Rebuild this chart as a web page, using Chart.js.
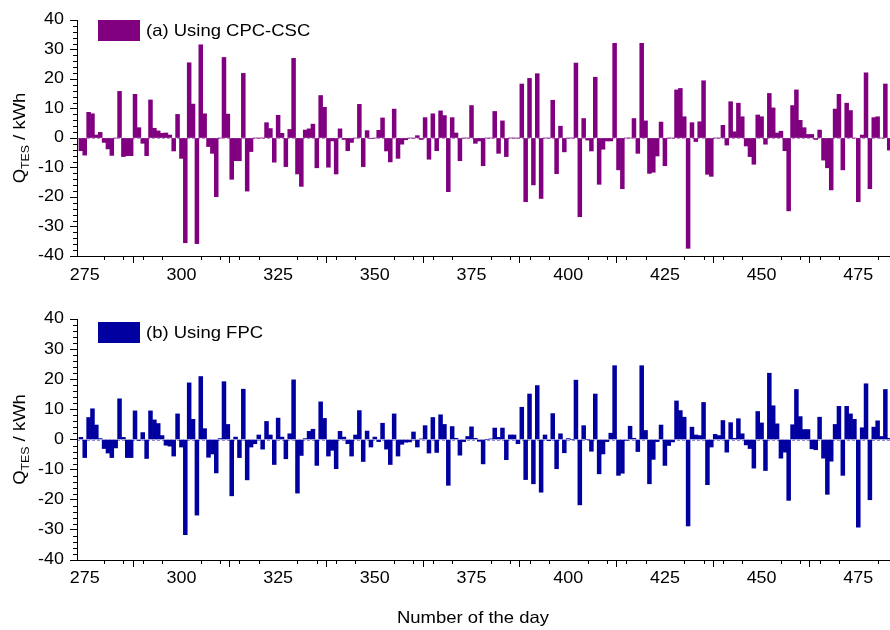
<!DOCTYPE html>
<html>
<head>
<meta charset="utf-8">
<script src="https://cdn.jsdelivr.net/npm/chart.js@4.4.1/dist/chart.umd.min.js"></script>
<style>
  html, body { margin: 0; padding: 0; background: #fff; }
  #wrap { position: relative; width: 890px; height: 630px; }
  .panel { position: absolute; left: 0; width: 890px; }
</style>
</head>
<body>
<div id="wrap">
  <div class="panel" style="top:0;height:300px"><canvas id="chartA"></canvas></div>
  <div class="panel" style="top:300px;height:330px"><canvas id="chartB"></canvas></div>
</div>
<script>
// Daily thermal energy storage balance, one value per day starting at day 274
const firstDay = 274;

// (a) CPC-CSC collector, kWh per day (days 274 ... 483)
const cpcCsc = [
  -4.3, -5.8, 8.7, 8.2, 1.0, 1.9, -1.5, -3.7, -5.9, 0,
  15.8, -6.3, -6.0, -6.0, 14.8, 3.5, -1.8, -6.0, 12.9, 3.3,
  2.4, 1.6, 1.7, 1.0, -4.4, 8.0, -6.9, -35.5, 25.5, 11.5,
  -35.8, 31.6, 8.2, -2.9, -5.2, -19.9, 0, 27.3, 8.1, -14.0,
  -7.7, -7.7, 21.9, -18.0, -4.6, 0, 0, 0, 5.2, 3.2,
  -8.2, 7.7, 1.6, -9.7, 2.9, 27.0, -12.2, -16.4, 2.7, 3.1,
  4.7, -10.1, 14.4, 10.4, -9.9, -1.0, -12.2, 3.1, -0.5, -4.3,
  -1.5, 0, 11.4, -9.7, 2.5, -0.2, 0, 2.6, 6.8, -4.4,
  -8.1, 9.8, -6.9, -2.1, -0.6, 0, 0, 0.8, -0.5, 6.9,
  -7.2, 8.2, -4.3, 9.2, 7.6, -18.2, 6.9, 1.7, -7.7, 0,
  0, 11.0, -1.8, -1.0, -9.4, 0, 0, 9.0, -5.2, 5.8,
  -6.3, 0, 0, 0, 18.3, -21.6, 20.2, -15.9, 21.8, -20.5,
  0, 0, 12.8, -12.1, 4.0, -4.7, 0, 0, 25.4, -26.7,
  6.6, -0.7, -4.4, 20.6, -15.7, -3.8, -1.0, -1.0, 32.1, -10.8,
  -17.2, 0, 0, 6.6, -5.2, 32.1, 5.8, -12.0, -11.6, -6.1,
  5.4, -9.4, 0, 0, 16.3, 16.8, 7.2, -37.4, 5.2, -1.2,
  5.5, 19.4, -12.3, -13.0, 0, 0, 4.3, -2.4, 12.3, 2.1,
  11.8, 7.2, -2.7, -6.3, -8.9, 7.8, 7.2, -2.1, 15.1, 10.2,
  1.7, 2.3, -4.3, -24.7, 11.0, 16.3, 6.0, 3.5, 1.2, 1.2,
  -0.5, 2.7, -7.5, -10.1, -17.6, 9.8, 14.8, -10.8, 11.8, 9.3,
  0, -21.6, 1.0, 22.1, -17.2, 6.9, 7.2, 0, 18.3, -4.1
];

// (b) FPC collector, kWh per day (days 274 ... 483)
const fpc = [
  0.7, -6.0, 7.3, 10.2, 4.8, 0.3, -3.0, -4.5, -6.0, -2.8,
  13.5, 0.7, -6.0, -6.0, 9.5, -0.3, 2.3, -6.3, 9.5, 6.5,
  5.3, 1.3, -1.9, -2.2, -5.5, 8.5, -2.5, -31.6, 18.8, 6.7,
  -25.1, 20.9, 3.6, -5.9, -4.8, -11.1, 0.3, 19.2, 5.0, -18.7,
  0.8, -6.0, 16.7, -13.4, -2.5, -1.4, 1.5, -3.2, 6.0, 1.5,
  -8.3, 7.1, 0.8, -6.4, 1.9, 19.8, -17.8, -5.3, 0.3, 2.7,
  3.4, -8.6, 12.5, 7.0, -5.5, -3.6, -9.7, 2.7, 0.8, -1.4,
  -5.5, 1.5, 9.6, -7.3, 2.8, -2.5, 0.8, -0.7, 5.4, -3.2,
  -8.3, 8.5, -5.5, -1.6, -0.9, -0.8, 2.5, -2.5, 0.2, 4.6,
  -4.5, 7.3, -4.3, 8.2, 5.0, -15.2, 4.3, 0.4, -5.2, -0.7,
  1.0, 4.2, 0.4, -0.6, -8.1, 0, 0.2, 3.8, 0.7, 3.8,
  -6.7, 1.5, 1.5, -1.4, 10.7, -13.3, 15.1, -14.7, 17.9, -17.5,
  1.5, -0.4, 8.6, -9.7, 1.9, -4.4, 0.3, 0, 19.7, -21.7,
  4.6, 0, -3.9, 15.1, -11.4, -4.8, -0.7, 2.1, 24.5, -11.9,
  -11.2, -0.3, 4.4, 0.4, -4.0, 24.5, 3.0, -14.7, -6.6, -0.7,
  4.8, -8.6, -2.0, -0.8, 12.8, 9.6, 7.4, -28.7, 4.1, 1.5,
  1.3, 12.3, -15.0, -2.5, 1.7, 1.3, 6.3, -4.2, 5.6, 0.4,
  6.9, 1.9, -1.8, -3.0, -9.5, 9.3, 5.5, -10.3, 22.0, 11.2,
  5.2, -6.2, -4.2, -20.2, 4.9, 16.6, 7.6, 3.3, 3.3, -3.1,
  -3.4, 7.4, -6.2, -18.2, -7.2, 5.0, 11.0, -11.9, 11.0, 8.5,
  6.7, -29.1, 3.9, 18.5, -20.0, 4.1, 6.2, 1.0, 16.6, 0.4
];

const xTickValues = [275, 300, 325, 350, 375, 400, 425, 450, 475];
const yTickValues = [-40, -30, -20, -10, 0, 10, 20, 30, 40];
const legendA = '(a) Using CPC-CSC';
const legendB = '(b) Using FPC';
const xTitle = 'Number of the day';

const FONT = '"Liberation Sans", Arial, Helvetica, sans-serif';
const TEXT_STRETCH = 1.12;   // slightly wide lettering

// draws text widened horizontally around its anchor
function wideText(ctx, text, x, y, align, size) {
  ctx.save();
  ctx.font = size + 'px ' + FONT;
  ctx.textBaseline = 'middle';
  ctx.textAlign = 'left';
  const w = ctx.measureText(text).width * TEXT_STRETCH;
  let left = x;
  if (align === 'center') left = x - w / 2;
  else if (align === 'right') left = x - w;
  ctx.translate(left, y);
  ctx.scale(TEXT_STRETCH, 1);
  ctx.fillText(text, 0, 0);
  ctx.restore();
}

// Axis decorations: dashed zero line, tick labels, minor ticks, legend box, axis titles
function decorPlugin(cfg) {
  return {
    id: 'decor',
    beforeDatasetsDraw(chart) {
      const { ctx, chartArea } = chart;
      const y0 = Math.round(chart.scales.y.getPixelForValue(0)) + 0.5;
      ctx.save();
      ctx.strokeStyle = cfg.zeroColor;
      ctx.lineWidth = 1;
      ctx.setLineDash([3, 2]);
      ctx.beginPath();
      ctx.moveTo(chartArea.left, y0);
      ctx.lineTo(chartArea.right, y0);
      ctx.stroke();
      ctx.restore();
    },
    afterDraw(chart) {
      const { ctx, chartArea } = chart;
      const xs = chart.scales.x, ys = chart.scales.y;
      ctx.save();
      ctx.strokeStyle = '#000';
      ctx.lineWidth = 1;
      // minor ticks on the value axis
      ctx.beginPath();
      for (let v = ys.min; v <= ys.max; v += 2) {
        if (v % 10 === 0) continue;
        const py = Math.round(ys.getPixelForValue(v)) + 0.5;
        ctx.moveTo(chartArea.left - 4, py);
        ctx.lineTo(chartArea.left, py);
      }
      // minor ticks on the day axis
      for (let d = 280; d <= xs.max; d += 5) {
        if (d % 25 === 0) continue;
        const px = Math.round(xs.getPixelForValue(d)) + 0.5;
        ctx.moveTo(px, chartArea.bottom);
        ctx.lineTo(px, chartArea.bottom + 4);
      }
      ctx.stroke();
      ctx.restore();

      ctx.save();
      ctx.fillStyle = '#000';
      // tick labels
      yTickValues.forEach(v => wideText(ctx, String(v), chartArea.left - 13, ys.getPixelForValue(v), 'right', 16));
      xTickValues.forEach(v => wideText(ctx, String(v), xs.getPixelForValue(v), chartArea.bottom + cfg.xLabelGap, 'center', 16));

      // legend
      const ds = chart.data.datasets[0];
      ctx.fillStyle = ds.backgroundColor;
      ctx.fillRect(cfg.legendX, cfg.legendY, 42, 21);
      ctx.fillStyle = '#000';
      wideText(ctx, ds.label, cfg.legendX + 48, cfg.legendY + 11, 'left', 16.5);

      if (cfg.showXTitle) {
        wideText(ctx, xTitle, 473, chart.height - 12, 'center', 16.5);
      }

      // value axis title: Q_TES / kWh
      const cy = (chartArea.top + chartArea.bottom) / 2;
      ctx.translate(20, cy);
      ctx.rotate(-Math.PI / 2);
      ctx.scale(TEXT_STRETCH, 1);
      const big = '16.5px ' + FONT, small = '11px ' + FONT;
      ctx.font = big; const wQ = ctx.measureText('Q').width;
      const wU = ctx.measureText(' / kWh').width;
      ctx.font = small; const wS = ctx.measureText('TES').width;
      let tx = -(wQ + wS + wU) / 2;
      ctx.textBaseline = 'middle';
      ctx.textAlign = 'left';
      ctx.font = big; ctx.fillText('Q', tx, 0); tx += wQ;
      ctx.font = small; ctx.fillText('TES', tx, 6); tx += wS;
      ctx.font = big; ctx.fillText(' / kWh', tx, 0);
      ctx.restore();
    }
  };
}

function makeChart(canvasId, values, label, color, zeroColor, pad, xHeight, legendY, xLabelGap, showXTitle) {
  return new Chart(document.getElementById(canvasId), {
    type: 'bar',
    data: {
      datasets: [{
        label: label,
        data: values.map((v, i) => ({ x: firstDay + i, y: v })),
        backgroundColor: color,
        borderWidth: 0,
        barPercentage: 1.0,
        categoryPercentage: 1.0
      }]
    },
    options: {
      responsive: true,
      maintainAspectRatio: false,
      animation: false,
      layout: { padding: pad },
      plugins: { legend: { display: false }, tooltip: { enabled: false } },
      scales: {
        x: {
          type: 'linear',
          min: 273,
          max: 483.2,
          offset: false,
          afterBuildTicks: s => { s.ticks = xTickValues.map(v => ({ value: v })); },
          afterFit: s => { s.height = xHeight; },
          grid: { display: true, drawOnChartArea: false, drawTicks: true, tickLength: 7, color: '#000', lineWidth: 1 },
          border: { display: true, color: '#000', width: 1 },
          ticks: { display: false }
        },
        y: {
          min: -40,
          max: 40,
          afterBuildTicks: s => { s.ticks = yTickValues.map(v => ({ value: v })); },
          afterFit: s => { s.width = 77; },
          grid: { display: true, drawOnChartArea: false, drawTicks: true, tickLength: 7, color: '#000', lineWidth: 1 },
          border: { display: true, color: '#000', width: 1 },
          ticks: { display: false }
        }
      }
    },
    plugins: [decorPlugin({ zeroColor: zeroColor, legendX: 98, legendY: legendY, xLabelGap: xLabelGap, showXTitle: showXTitle })]
  });
}

makeChart('chartA', cpcCsc, legendA, '#800080', 'rgba(128,0,128,0.45)',
  { top: 20, right: 0, bottom: 14, left: 0 }, 30, 20, 20, false);
makeChart('chartB', fpc, legendB, '#0000A0', 'rgba(0,0,160,0.45)',
  { top: 19, right: 0, bottom: 0, left: 0 }, 70, 22, 19, true);
</script>
</body>
</html>
